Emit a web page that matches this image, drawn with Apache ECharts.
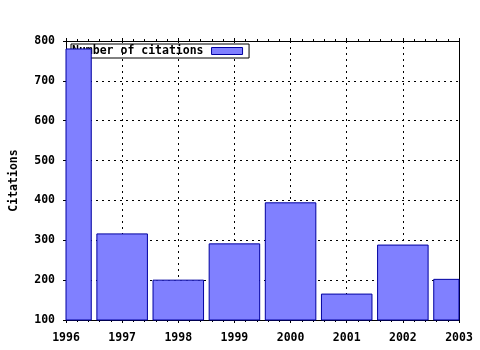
<!DOCTYPE html>
<html>
<head>
<meta charset="utf-8">
<script src="https://cdn.jsdelivr.net/npm/echarts@6/dist/echarts.min.js"></script>
<style>html,body{margin:0;padding:0;background:#fff}#c{width:480px;height:350px}</style>
</head>
<body>
<div id="c"></div>
<script>
const years = [1996, 1997, 1998, 1999, 2000, 2001, 2002, 2003];
const citations = [780, 316, 200, 291, 394, 165, 288, 202];
const seriesName = 'Number of citations';
const yAxisTitle = 'Citations';

const FONT = '"DejaVu Sans Mono", monospace';
const FILL = '#8080ff', EDGE = '#0000a0';
const chart = echarts.init(document.getElementById('c'), null, {renderer: 'canvas'});
const tickLabel = {fontFamily: FONT, fontWeight: 'bold', fontSize: 11.5, color: '#000'};
chart.setOption({
  animation: false,
  backgroundColor: '#fff',
  grid: {left: 65, right: 21, top: 41, bottom: 30, containLabel: false},
  legend: {
    z: 0, zlevel: 0,
    left: 71, top: 44,
    orient: 'horizontal',
    align: 'right',
    backgroundColor: '#fff',
    borderColor: '#000', borderWidth: 1, borderRadius: 0,
    padding: [1, 6, 1, 1],
    itemWidth: 31, itemHeight: 7,
    icon: 'rect',
    textStyle: {fontFamily: FONT, fontWeight: 'bold', fontSize: 11.5, color: '#000', lineHeight: 11, padding: [0, 3, 0, 0]},
    data: [{name: seriesName, itemStyle: {color: FILL, borderColor: EDGE, borderWidth: 1}}]
  },
  xAxis: [{
    type: 'value', min: 1996, max: 2003, interval: 1, position: 'bottom',
    axisLine: {show: true, onZero: false, lineStyle: {color: '#000', width: 1}},
    axisTick: {show: true, length: 3, lineStyle: {color: '#000'}},
    minorTick: {show: true, splitNumber: 5, length: 2, lineStyle: {color: '#000'}},
    axisLabel: Object.assign({margin: 12, formatter: v => String(v)}, tickLabel),
    splitLine: {show: true, lineStyle: {color: '#000', type: [2, 4], width: 1}}
  }, {
    type: 'value', min: 1996, max: 2003, interval: 1, position: 'top',
    axisLine: {show: true, onZero: false, lineStyle: {color: '#000', width: 1}},
    axisTick: {show: true, length: 3, lineStyle: {color: '#000'}},
    minorTick: {show: true, splitNumber: 5, length: 2, lineStyle: {color: '#000'}},
    axisLabel: {show: false},
    splitLine: {show: false}
  }],
  yAxis: [{
    type: 'value', min: 100, max: 800, interval: 100, position: 'left',
    name: yAxisTitle, nameLocation: 'middle', nameRotate: 90, nameGap: 46,
    nameTextStyle: {fontFamily: FONT, fontWeight: 'bold', fontSize: 11.5, color: '#000'},
    axisLine: {show: true, onZero: false, lineStyle: {color: '#000', width: 1}},
    axisTick: {show: true, length: 3, lineStyle: {color: '#000'}},
    axisLabel: Object.assign({margin: 11}, tickLabel),
    splitLine: {show: true, lineStyle: {color: '#000', type: [2, 4], width: 1}}
  }, {
    type: 'value', min: 100, max: 800, interval: 100, position: 'right',
    axisLine: {show: true, onZero: false, lineStyle: {color: '#000', width: 1}},
    axisTick: {show: false},
    axisLabel: {show: false},
    splitLine: {show: false}
  }],
  series: [{
    name: seriesName,
    type: 'custom',
    z: 100, zlevel: 0,
    xAxisIndex: 0, yAxisIndex: 0,
    itemStyle: {color: FILL, borderColor: EDGE, borderWidth: 1},
    encode: {x: 0, y: 1},
    data: years.map((y, i) => [y, citations[i]]),
    renderItem: function (params, api) {
      const cs = params.coordSys;
      const top = api.coord([api.value(0), api.value(1)]);
      const w = api.size([1, 0])[0] * 0.9;
      const bottom = cs.y + cs.height;
      const rect = echarts.graphic.clipRectByRect(
        {x: top[0] - w / 2, y: top[1], width: w, height: bottom - top[1]},
        {x: cs.x, y: cs.y, width: cs.width, height: cs.height}
      );
      if (!rect) return null;
      return {
        type: 'rect',
        z2: 100,
        shape: rect,
        style: {fill: FILL, stroke: EDGE, lineWidth: 1}
      };
    }
  }]
});
</script>
</body>
</html>
